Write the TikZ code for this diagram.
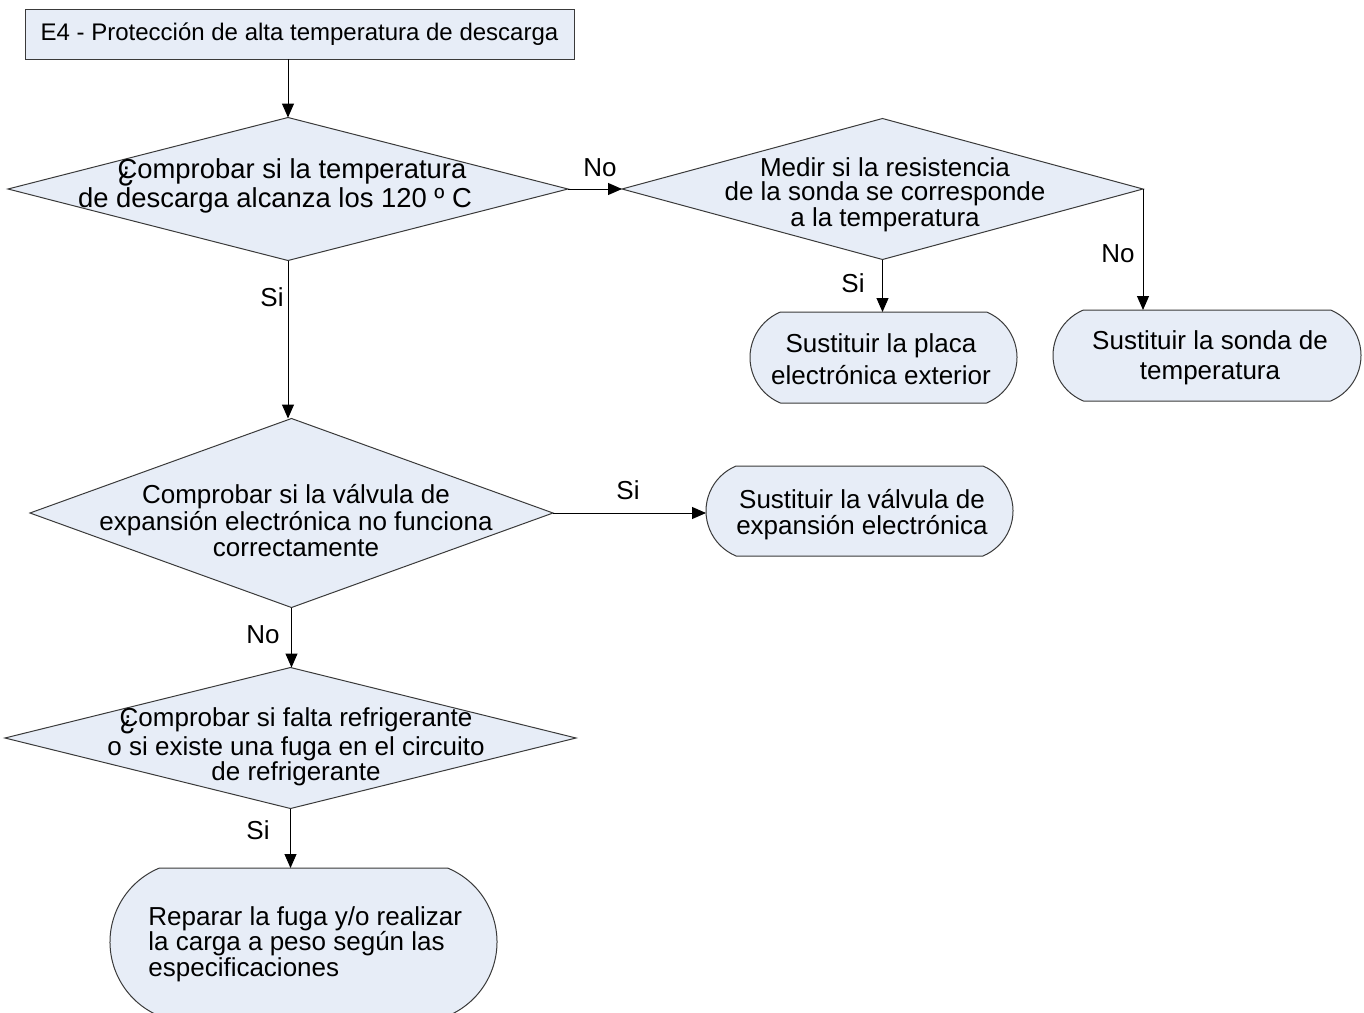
\documentclass[tikz,border=0pt]{standalone}
\usepackage{fontspec}
\setmainfont{Liberation Sans}
\usetikzlibrary{shapes.geometric,shapes.misc,arrows.meta}
\definecolor{fillc}{HTML}{E7EDF7}
\definecolor{linec}{HTML}{3A3A3A}
\begin{document}
\begin{tikzpicture}[x=0.5pt,y=-0.5pt,
  box/.style={draw=linec, fill=fillc, line width=0.5pt},
  dia/.style={box, diamond, inner sep=0pt, outer sep=0pt},
  term/.style={box, rounded rectangle, rounded rectangle arc length=135, inner sep=0pt, outer sep=0pt},
  txt/.style={align=center, inner sep=0pt, font=\fontsize{13}{#1}\selectfont},
  txt/.default=12,
  lbl/.style={inner sep=0pt, font=\fontsize{13}{13}\selectfont},
  arr/.style={-{Triangle[length=7pt,width=6pt]}, line width=0.5pt, draw=black}]
\useasboundingbox (0,0) rectangle (1364,1012);
\begin{scope}
\clip (0,0) rectangle (1364,1012);
% title
\node[box, rectangle, minimum width=274.5pt, minimum height=25pt, inner sep=0pt, outer sep=0pt,
      font=\fontsize{12}{12}\selectfont] (t) at (299.5,34) {\raisebox{-1pt}{E4 - Protección de alta temperatura de descarga}};
% diamonds
\node[dia, minimum width=280pt, minimum height=71.5pt] (d1) at (288,189) {};
\node[txt=11.5, font=\fontsize{13.7}{11.5}\selectfont] (d1t) at (290,186) {\rlap{\raisebox{-1.5pt}{¿}}Comprobar si la temperatura\hspace*{-2pt}\\de descarga alcanza los 120 º C\hspace*{15pt}};
\node[dia, minimum width=260.5pt, minimum height=70.5pt] (d2) at (882.5,189) {};
\node[txt=11.75] (d2t) at (885,195) {Medir si la resistencia\\de la sonda se corresponde\\a la temperatura};
\node[dia, minimum width=261.5pt, minimum height=94.5pt] (d3) at (291.5,513) {};
\node[txt=13.25] (d3t) at (296,521) {Comprobar si la válvula de\\expansión electrónica no funciona\\correctamente};
\node[dia, minimum width=285.5pt, minimum height=70.5pt] (d4) at (290.5,738) {};
\node[txt=12.75] (d4t) at (296,747) {\rlap{\raisebox{-1.5pt}{¿}}Comprobar si falta refrigerante\\o si existe una fuga en el circuito\\de refrigerante};
% terminators
\node[term, minimum width=133.5pt, minimum height=45.5pt] (placa) at (883.5,357.5) {};
\node[txt=16] (placat) at (881,359) {Sustituir la placa\\electrónica exterior};
\node[term, minimum width=154pt, minimum height=45.5pt] (sonda) at (1207,355.5) {};
\node[txt=15] (sondat) at (1210,358) {Sustituir la sonda de\\temperatura};
\node[term, minimum width=153.5pt, minimum height=45pt] (valv) at (859.5,511) {};
\node[txt=13] (valvt) at (862,515) {Sustituir la válvula de\\expansión electrónica};
\node[term, minimum width=193.5pt, minimum height=74pt] (rep) at (303.5,942) {};
\node[txt=12.75, align=left, anchor=west] (rept) at (148,944) {Reparar la fuga y/o realizar\\la carga a peso según las\\especificaciones};
\end{scope}
% connectors
\draw[arr] (t.south -| d1.north) -- (d1.north);
\draw[arr] (d1.east) -- (d2.west);
\draw[arr] (d2.south) -- (d2.south |- placa.north);
\draw[arr] (d2.east) -- (d2.east |- sonda.north);
\draw[arr] (d1.south) -- (d3.north -| d1.south);
\draw[arr] (d3.east) -- (d3.east -| valv.west);
\draw[arr] (d3.south) -- (d4.north -| d3.south);
\draw[arr] (d4.south) -- (rep.north -| d4.south);
% labels
\node[lbl] (l1) at (600,168) {No};
\node[lbl] (l2) at (853,283) {Si};
\node[lbl] (l3) at (1118,254) {No};
\node[lbl] (l4) at (272,297) {Si};
\node[lbl] (l5) at (628,490) {Si};
\node[lbl] (l6) at (263,635) {No};
\node[lbl] (l7) at (258,830) {Si};
\end{tikzpicture}
\end{document}
